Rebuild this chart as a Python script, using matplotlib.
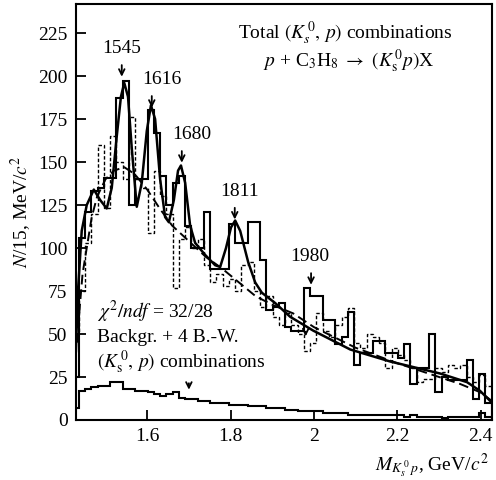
import numpy as np
import matplotlib
matplotlib.use("Agg")
import matplotlib.pyplot as plt

plt.rcParams['font.family'] = ['Liberation Serif', 'DejaVu Serif']
plt.rcParams['mathtext.fontset'] = 'stix'

# histogram bins: 15 MeV
bin_start = 1.421
bin_width = 0.015

# total (K0s, p) combinations, solid histogram
total_counts = [25, 106, 121, 133, 135, 141, 141, 187, 197, 125,
                140, 140, 180, 167, 142, 125, 138, 142, 113, 100,
                100, 121, 88, 88, 88, 114, 103, 103, 115, 115,
                93, 64, 66, 68, 54, 52, 52, 77, 72, 72,
                58, 58, 44, 48, 63, 32, 39, 39, 46, 46,
                39, 39, 36, 44, 21, 30, 30, 50, 16, 25,
                23, 23, 23, 35, 12, 27, 10]

# dashed histogram
dashed_counts = [50, 75, 103, 120, 160, 123, 165, 150, 140, 176,
                 140, 135, 109, 145, 130, 120, 77, 105, 112, 100,
                 105, 90, 80, 85, 78, 82, 75, 90, 92, 75,
                 66, 72, 60, 55, 62, 55, 50, 40, 45, 62,
                 52, 48, 55, 60, 65, 45, 42, 50, 48, 45,
                 30, 42, 38, 35, 30, 22, 24, 24, 30, 28,
                 32, 30, 32, 25, 22, 26, 20]

# (K0s, p) combinations, bottom histogram
comb_counts = [7, 17, 18, 19, 20, 20, 22, 22, 18, 18,
               17, 17, 16, 15, 14, 15, 16, 13, 12, 12,
               11, 11, 10, 10, 10, 9, 9, 9, 8, 8,
               8, 7, 7, 7, 6, 6, 5, 5, 5, 5,
               4, 4, 4, 4, 3, 3, 3, 3, 3, 3,
               3, 3, 3, 2, 3, 2, 2, 2, 2, 1,
               2, 2, 2, 2, 2, 4, 2]

# fit: background + 4 Breit-Wigner
fit_m = [1.429, 1.434, 1.443, 1.455, 1.472, 1.487, 1.503, 1.515, 1.527, 1.537,
         1.545, 1.554, 1.563, 1.575, 1.587, 1.599, 1.609, 1.619, 1.631, 1.643,
         1.652, 1.664, 1.674, 1.681, 1.691, 1.703, 1.715, 1.739, 1.763, 1.775,
         1.789, 1.801, 1.811, 1.823, 1.842, 1.859, 1.875, 1.907, 1.943, 1.998,
         2.087, 2.183, 2.303, 2.367, 2.398, 2.427]
fit_n = [40, 75, 110, 125, 134, 128, 123, 135, 165, 188,
         196, 188, 158, 124, 138, 168, 183, 175, 140, 118,
         115, 128, 145, 148, 138, 113, 103, 96, 90, 89,
         100, 112, 116, 110, 92, 80, 74, 68, 60, 52,
         41, 34, 27, 22, 17, 10]

# background curve
bg_m = [1.432, 1.437, 1.445, 1.455, 1.467, 1.480, 1.500, 1.520, 1.545, 1.570,
        1.600, 1.630, 1.660, 1.700, 1.740, 1.780, 1.820, 1.860, 1.900, 1.950,
        2.000, 2.100, 2.200, 2.300, 2.350, 2.400, 2.427]
bg_n = [45, 62, 85, 100, 118, 130, 140, 145, 147, 143,
        134, 123, 113, 104, 95, 88, 80, 72, 67, 62,
        54, 42, 33, 25, 21, 16, 11]

# resonance labels (arrow position, arrow tip height, label position)
peak_labels = ['1545', '1616', '1680', '1811', '1980']
arrow_m = [1.539, 1.611, 1.683, 1.810, 1.993]
arrow_tip = [198, 180, 148, 115, 77]
label_m = [1.539, 1.635, 1.707, 1.822, 1.990]

fig = plt.figure(figsize=(4.96, 4.8), dpi=100)
ax = fig.add_axes([0.153, 0.125, 0.839, 0.867])

edges = bin_start + bin_width * np.arange(len(total_counts) + 1)
ax.stairs(dashed_counts, edges, color='black', lw=1.0, ls=(0, (2.5, 1.5)))
ax.stairs(total_counts, edges, color='black', lw=1.5)
ax.stairs(comb_counts, edges, color='black', lw=1.5)
ax.plot(bg_m, bg_n, color='black', lw=1.4, ls=(0, (5, 2.5)))
ax.plot(fit_m, fit_n, color='black', lw=1.8)

for lab, m, tip, lm in zip(peak_labels, arrow_m, arrow_tip, label_m):
    ax.annotate('', xy=(m, tip), xytext=(m, tip + 10),
                arrowprops=dict(arrowstyle='->', color='black', lw=1.3))
    ax.text(lm, tip + 18, lab, ha='center', va='center', fontsize=14)

# small arrows
ax.annotate('', xy=(1.98, 47), xytext=(1.98, 53),
            arrowprops=dict(arrowstyle='->', color='black', lw=1.3))
ax.annotate('', xy=(1.70, 16), xytext=(1.70, 23),
            arrowprops=dict(arrowstyle='->', color='black', lw=1.3))

ax.text(0.906, 0.93, r'Total $(K_s^{\,0},\, p)$ combinations', transform=ax.transAxes,
        ha='right', va='center', fontsize=14)
ax.text(0.863, 0.862, r'$p$ + C$_3$H$_8$ $\rightarrow$ $(K_{\rm s}^{\,0} p)$X', transform=ax.transAxes,
        ha='right', va='center', fontsize=14)

ax.text(0.05, 0.26, r'$\chi^2/ndf$ = 32/28', transform=ax.transAxes,
        ha='left', va='center', fontsize=14)
ax.text(0.05, 0.198, 'Backgr. + 4 B.-W.', transform=ax.transAxes,
        ha='left', va='center', fontsize=14)
ax.text(0.05, 0.138, r'$(K_{\rm s}^{\,0},\, p)$ combinations', transform=ax.transAxes,
        ha='left', va='center', fontsize=14)

ax.set_xlim(1.429, 2.427)
ax.set_ylim(0, 242)
ax.set_xticks([1.6, 1.8, 2.0, 2.2, 2.4])
ax.set_xticklabels(['1.6', '1.8', '2', '2.2', '2.4'])
ax.set_yticks([0, 25, 50, 75, 100, 125, 150, 175, 200, 225])
ax.tick_params(direction='in', length=7, width=1.3, labelsize=14, pad=6)
for s in ax.spines.values():
    s.set_linewidth(1.5)

ax.set_ylabel(r'$N$/15, MeV/$c^2$', fontsize=14, labelpad=4)
fig.text(0.985, 0.03, r'$M_{K_s^{\,0}\,p}$, GeV/$c^2$', ha='right', va='center', fontsize=14)

fig.savefig('out.png', dpi=100)
